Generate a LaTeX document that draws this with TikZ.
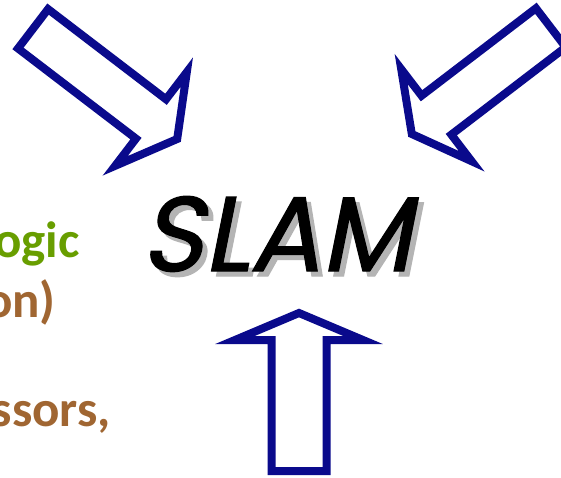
\documentclass[tikz,border=0pt]{standalone}
\usepackage{fontspec}
\newfontfamily\lfont{Carlito}
\newfontfamily\slamfont[FakeSlant=0.2,FakeBold=1.2]{Poppins}
\definecolor{arrowblue}{RGB}{10,10,140}
\definecolor{txtgreen}{RGB}{104,158,0}
\definecolor{txtbrown}{RGB}{160,102,50}
\definecolor{shadowgray}{RGB}{180,180,180}
\tikzset{
  blockarrow/.style={draw=arrowblue, fill=white, line width=8pt, line join=miter},
  lefttext/.style={font=\lfont\bfseries, inner sep=0pt, anchor=base east},
}
\newcommand{\myblockarrow}[4]{% #1 L, #2 H, #3 h, #4 s
  \draw[blockarrow] (0,0) -- (-#2,#3) -- (-#2,#4) -- (-#1,#4) -- (-#1,-#4)
     -- (-#2,-#4) -- (-#2,-#3) -- cycle;}
\begin{document}
\begin{tikzpicture}[x=1pt,y=-1pt]
\useasboundingbox (0,0) rectangle (561,478);
\fill[white] (0,0) rectangle (561,478);
\clip (0,0) rectangle (561,478);
% arrows
\begin{scope}[shift={(299,313)}, rotate=90]
  \myblockarrow{158}{27}{64}{27.5}
\end{scope}
\begin{scope}[shift={(177.2,139)}, rotate=-37.4]
  \myblockarrow{181.5}{33}{59}{24.75}
\end{scope}
\begin{scope}[shift={(411.8,134)}, rotate=217.4]
  \myblockarrow{175}{31}{58}{24.5}
\end{scope}
% SLAM
\node[font=\slamfont, inner sep=0pt, anchor=base west, text=shadowgray]
  (slamshadow) at (146,276) {\fontsize{106}{110}\selectfont SLAM};
\node[font=\slamfont, inner sep=0pt, anchor=base west]
  (slam) at (141,271) {\fontsize{106}{110}\selectfont SLAM};
% left texts
\node[lefttext, text=txtgreen] (t1) at (80,257) {\fontsize{51}{55}\selectfont ogic};
\node[lefttext, text=txtbrown] (t2) at (56,317) {\fontsize{51}{55}\selectfont on)};
\node[lefttext, text=txtbrown] (t3) at (111,426) {\fontsize{51}{55}\selectfont ssors,};
\end{tikzpicture}
\end{document}
